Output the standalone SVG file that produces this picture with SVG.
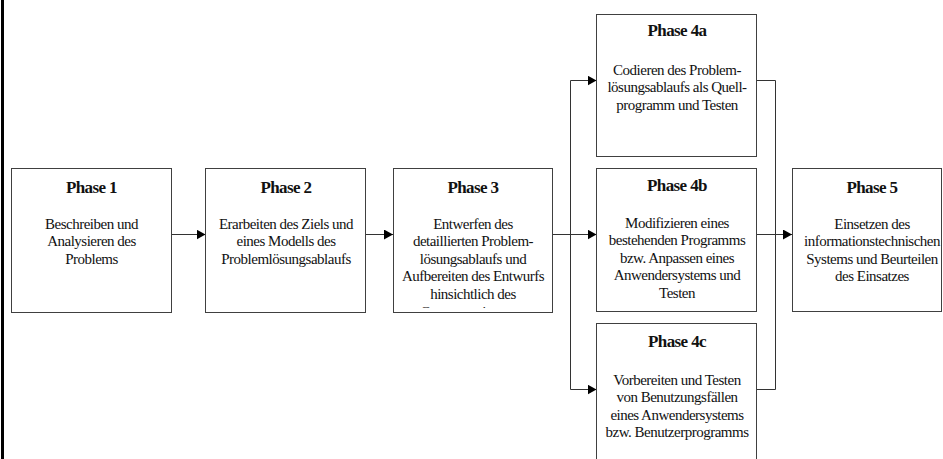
<svg xmlns="http://www.w3.org/2000/svg" width="943" height="459" viewBox="0 0 943 459">
<style>
.box{fill:#fff;stroke:#404040;stroke-width:1}
text{font-family:'Liberation Serif','Times New Roman',serif;text-anchor:middle;fill:#111}
.t{font-weight:bold;font-size:17px;letter-spacing:-0.6px}
.b{font-size:15px;letter-spacing:-0.5px}
.c{fill:none;stroke:#333;stroke-width:1}
</style>
<defs>
<marker id="ah" markerUnits="userSpaceOnUse" markerWidth="10" markerHeight="11" refX="9" refY="5" orient="auto">
<path d="M0,0 L9,5 L0,10 z" fill="#000"/>
</marker>
<clipPath id="clip3"><rect x="393" y="168" width="161" height="140"/></clipPath>
</defs>
<rect x="0" y="0" width="943" height="459" fill="#fff"/>
<rect x="1" y="0" width="3" height="459" fill="#000"/>
<g id="connectors">
<path class="c" d="M172,234.5 H205.5" marker-end="url(#ah)"/>
<path class="c" d="M366,234.5 H393" marker-end="url(#ah)"/>
<path class="c" d="M553,234.5 H596.5" marker-end="url(#ah)"/>
<path class="c" d="M570.5,80.5 V389.5"/>
<path class="c" d="M570.5,80.5 H596.5" marker-end="url(#ah)"/>
<path class="c" d="M570.5,389.5 H596.5" marker-end="url(#ah)"/>
<path class="c" d="M757,80.5 H775.5 V389.5 H757"/>
<path class="c" d="M757,234.5 H792" marker-end="url(#ah)"/>
</g>
<g id="phase1">
<rect class="box" x="11.5" y="168.5" width="160" height="144"/>
<text class="t" x="91.5" y="193">Phase 1</text>
<text class="b" x="91.5" y="228.5">Beschreiben und</text>
<text class="b" x="91.5" y="246.1">Analysieren des</text>
<text class="b" x="91.5" y="263.7">Problems</text>
</g>
<g id="phase2">
<rect class="box" x="205.5" y="168.5" width="160" height="144"/>
<text class="t" x="286" y="193">Phase 2</text>
<text class="b" x="286" y="228.5">Erarbeiten des Ziels und</text>
<text class="b" x="286" y="246.1">eines Modells des</text>
<text class="b" x="286" y="263.7">Problemlösungsablaufs</text>
</g>
<g id="phase3">
<rect class="box" x="393.5" y="168.5" width="159" height="144"/>
<text class="t" x="473" y="193">Phase 3</text>
<g clip-path="url(#clip3)">
<text class="b" x="473" y="228.5">Entwerfen des</text>
<text class="b" x="473" y="246.1">detaillierten Problem-</text>
<text class="b" x="473" y="263.7">lösungsablaufs und</text>
<text class="b" x="473" y="281.3">Aufbereiten des Entwurfs</text>
<text class="b" x="473" y="298.9">hinsichtlich des</text>
<text class="b" x="473" y="316.5">Computereinsatzes</text>
</g>
</g>
<g id="phase4a">
<rect class="box" x="596.5" y="14.5" width="160" height="142"/>
<text class="t" x="677" y="36">Phase 4a</text>
<text class="b" x="677" y="74.5">Codieren des Problem-</text>
<text class="b" x="677" y="92.1">lösungsablaufs als Quell-</text>
<text class="b" x="677" y="109.7">programm und Testen</text>
</g>
<g id="phase4b">
<rect class="box" x="596.5" y="168.5" width="160" height="143"/>
<text class="t" x="677" y="191">Phase 4b</text>
<text class="b" x="677" y="227.5">Modifizieren eines</text>
<text class="b" x="677" y="245.1">bestehenden Programms</text>
<text class="b" x="677" y="262.7">bzw. Anpassen eines</text>
<text class="b" x="677" y="280.3">Anwendersystems und</text>
<text class="b" x="677" y="297.9">Testen</text>
</g>
<g id="phase4c">
<rect class="box" x="596.5" y="323.5" width="160" height="200"/>
<text class="t" x="677" y="347">Phase 4c</text>
<text class="b" x="677" y="384.5">Vorbereiten und Testen</text>
<text class="b" x="677" y="402.1">von Benutzungsfällen</text>
<text class="b" x="677" y="419.7">eines Anwendersystems</text>
<text class="b" x="677" y="437.3">bzw. Benutzerprogramms</text>
</g>
<g id="phase5">
<rect class="box" x="792.5" y="168.5" width="149" height="143"/>
<text class="t" x="872" y="193">Phase 5</text>
<text class="b" x="872" y="228.5">Einsetzen des</text>
<text class="b" x="872" y="246.1">informationstechnischen</text>
<text class="b" x="872" y="263.7">Systems und Beurteilen</text>
<text class="b" x="872" y="281.3">des Einsatzes</text>
</g>
</svg>
